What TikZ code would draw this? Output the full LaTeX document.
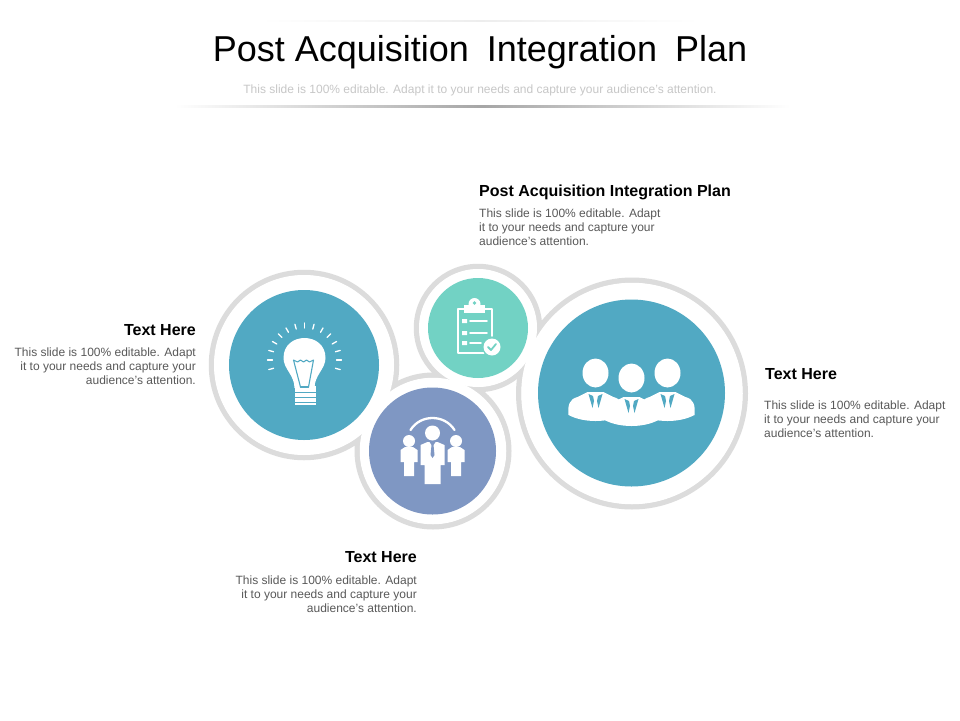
\documentclass[tikz,border=0pt]{standalone}
\usepackage{fontspec}
\usetikzlibrary{calc}
\setmainfont{Liberation Sans}
\definecolor{ringgray}{HTML}{DCDCDC}
\definecolor{tealblue}{HTML}{51A9C3}
\definecolor{mintgreen}{HTML}{72D2C4}
\definecolor{slateblue}{HTML}{7F97C3}
\definecolor{bodygray}{HTML}{595959}
\tikzset{
  ring/.style={circle, draw=ringgray, line width=5.5pt, inner sep=0pt},
  hole/.style={circle, fill=white, inner sep=0pt},
  disc/.style={circle, inner sep=0pt},
  headtext/.style={font=\fontsize{16}{18}\selectfont\bfseries, inner sep=0pt},
  bodyleft/.style={font=\fontsize{12}{14}\selectfont, text=bodygray, align=left, inner sep=0pt},
  bodyright/.style={font=\fontsize{12}{14}\selectfont, text=bodygray, align=right, inner sep=0pt},
}
\begin{document}
\begin{tikzpicture}[x=1pt, y=-1pt, line join=round, line cap=round]
\useasboundingbox (0,0) rectangle (960,720);
\fill[white] (0,0) rectangle (960,720);
% title
\node[font=\fontsize{36}{40}\selectfont, inner sep=0pt] (title) at (480,52.5) {Post Acquisition\hspace{8pt} Integration\hspace{8pt} Plan};
\node[font=\fontsize{12}{14}\selectfont, text=black!22, inner sep=0pt] (subtitle) at (480,90) {This slide is 100\% editable. Adapt it to your needs and capture your audience's attention.};
\shade[left color=white, right color=white, middle color=black!7] (260,20) rectangle (700,21);
\shade[left color=white, right color=white, middle color=black!35] (175,105.5) rectangle (790,107);
% rings
\node[ring, minimum size=185pt] (bulbring) at (304,365) {};
\node[ring, minimum size=151.5pt] (peoplering) at (433,451) {};
\node[ring, minimum size=226.5pt] (teamring) at (632,393.5) {};
\node[ring, minimum size=123pt] (clipring) at (478,328) {};
% white insides hide the ring parts that cross
\node[hole, minimum size=180pt] at (bulbring) {};
\node[hole, minimum size=146.5pt] at (peoplering) {};
\node[hole, minimum size=221.5pt] at (teamring) {};
\node[hole, minimum size=118pt] at (clipring) {};
% discs
\node[disc, fill=tealblue, minimum size=150pt] (bulb) at (304,365) {};
\node[disc, fill=slateblue, minimum size=127pt] (people) at (432.5,451) {};
\node[disc, fill=tealblue, minimum size=187pt] (team) at (631.5,393) {};
\node[disc, fill=mintgreen, minimum size=100pt] (clip) at (478,328) {};
% bulb icon
\begin{scope}[shift={(304.5,365)}]
\fill[white] (-10,23) .. controls (-10,10) and (-21,4) .. (-21,-7) .. controls (-21,-20) and (-11,-27) .. (0,-27) .. controls (11,-27) and (21,-20) .. (21,-7) .. controls (21,4) and (10,10) .. (10,23) -- cycle;
\fill[white] (-10,21) rectangle (11,40);
\draw[tealblue, line width=1pt, line cap=butt] (-11,27) -- (12,27) (-11,32) -- (12,32) (-11,37) -- (12,37);
\draw[tealblue, line width=1.1pt] (-4,22) -- (-11,-5) -- (-7,-3) -- (-4,-5) -- (-1,-3) -- (2,-5) -- (5,-3) -- (9,-5) -- (4,22);
\draw[tealblue, line width=1.1pt] (-4,22) -- (4,22);
\foreach \ang in {165,180,...,375} \draw[white, line width=1.3pt] ($(0,-5)+(\ang:32)$) -- ($(0,-5)+(\ang:37)$);
\end{scope}
% clipboard icon
\begin{scope}[shift={(478,328)}]
\draw[white, line width=1.8pt] (6,25) -- (-20,25) -- (-20,-19) -- (-14,-19) (7,-19) -- (14,-19) -- (14,8);
\fill[white] (-14,-23) rectangle (7,-15);
\fill[white] (-3.5,-24) circle (6);
\fill[mintgreen] (-3.5,-25) circle (1.8);
\fill[white] (-16,-9) rectangle (-11,-5) (-16,3) rectangle (-11,7) (-16,13) rectangle (-11,17);
\draw[white, line width=1.6pt] (-8,-7) -- (9,-7) (-8,5) -- (9,5) (-8,15) -- (3,15);
\fill[mintgreen] (14,19) circle (10);
\fill[white] (14,19) circle (8.5);
\draw[mintgreen, line width=1.8pt] (10,19) -- (13,22) -- (18,16);
\end{scope}
% people icon
\begin{scope}[shift={(432.5,451)}]
\draw[white, line width=2.3pt] (-22,-21) .. controls (-12,-37) and (12,-37) .. (22,-21);
\foreach \px in {-23.5,23.5} {
  \fill[white] (\px,-10) circle (6);
  \fill[white] (\px-8.5,-1) -- (\px-4,-4) -- (\px+4,-4) -- (\px+8.5,-1) -- (\px+8.5,11) -- (\px+5,11) -- (\px+5,25) -- (\px-5,25) -- (\px-5,11) -- (\px-8.5,11) -- cycle;
}
\fill[white] (0,-18) circle (7.5);
\fill[white] (-12,-6) -- (-5,-9) -- (5,-9) -- (12,-6) -- (12,14) -- (8,14) -- (8,33) -- (-8,33) -- (-8,14) -- (-12,14) -- cycle;
\fill[slateblue] (-3,-9) -- (3,-9) -- (1,-6) -- (2,4) -- (0,7) -- (-2,4) -- (-1,-6) -- cycle;
\end{scope}
% team icon
\begin{scope}[shift={(631.5,393)}]
\foreach \px/\py in {-36/-5,36/-5,0/0} {
  \begin{scope}[shift={(\px,\py)}]
  \fill[white] (-27,27) .. controls (-28,17) and (-26,11) .. (-18,9) -- (-8,4) -- (8,4) -- (18,9) .. controls (26,11) and (28,17) .. (27,27) .. controls (12,35) and (-12,35) .. (-27,27) -- cycle;
  \fill[tealblue] (-7,6) -- (-3,20) -- (-1.5,13) -- (-2.5,8) -- cycle;
  \fill[tealblue] (7,6) -- (3,20) -- (1.5,13) -- (2.5,8) -- cycle;
  \fill[white] (0,-15) ellipse (13 and 14.5);
  \end{scope}
}
\end{scope}
% texts
\node[headtext, anchor=north west] (h1) at (479,185) {Post Acquisition Integration Plan};
\node[bodyleft, anchor=north west] (b1) at (479,208.5) {This slide is 100\% editable. Adapt\\it to your needs and capture your\\audience's attention.};
\node[headtext, anchor=north east] (h2) at (196,324.5) {Text Here};
\node[bodyright, anchor=north east] (b2) at (196,347.5) {This slide is 100\% editable. Adapt\\it to your needs and capture your\\audience's attention.};
\node[headtext, anchor=north west] (h3) at (765,368.5) {Text Here};
\node[bodyleft, anchor=north west] (b3) at (764,400.5) {This slide is 100\% editable. Adapt\\it to your needs and capture your\\audience's attention.};
\node[headtext, anchor=north east] (h4) at (417,551.5) {Text Here};
\node[bodyright, anchor=north east] (b4) at (417,575.5) {This slide is 100\% editable. Adapt\\it to your needs and capture your\\audience's attention.};
\end{tikzpicture}
\end{document}
